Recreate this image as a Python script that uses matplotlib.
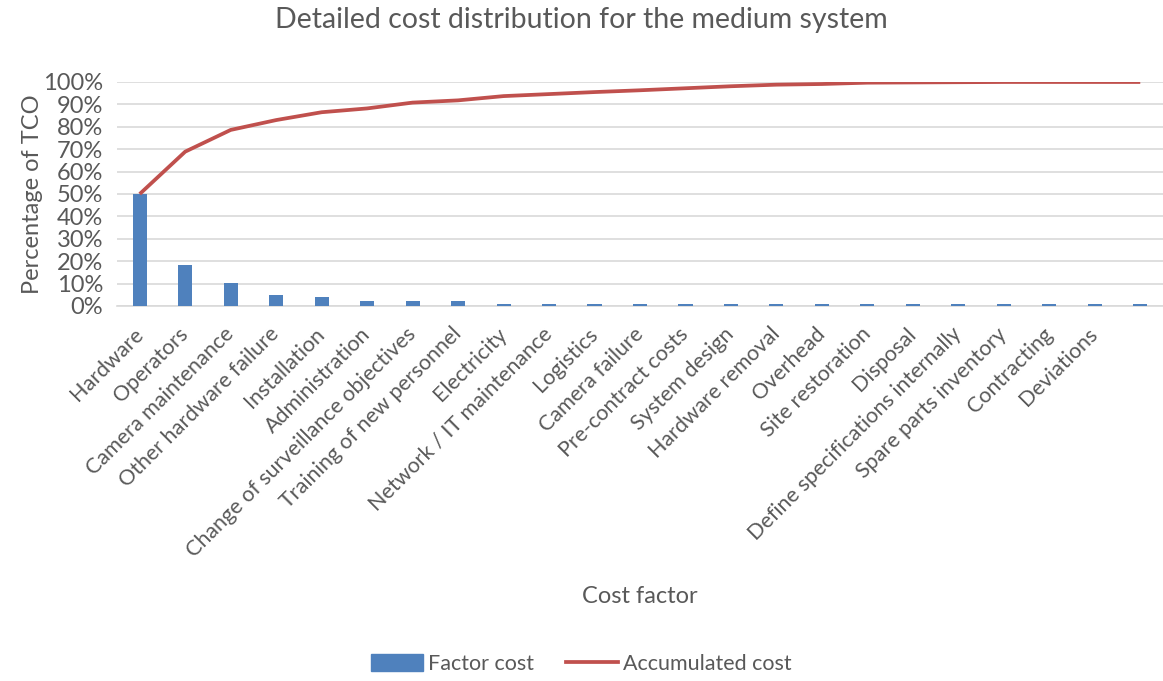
import matplotlib.pyplot as plt
import numpy as np
from matplotlib.ticker import PercentFormatter
from matplotlib.patches import Patch
from matplotlib.lines import Line2D

plt.rcParams['font.family'] = ['Lato', 'DejaVu Sans']

factors = ['Hardware', 'Operators', 'Camera maintenance', 'Other hardware failure',
           'Installation', 'Administration', 'Change of surveillance objectives',
           'Training of new personnel', 'Electricity', 'Network / IT maintenance',
           'Logistics', 'Camera failure', 'Pre-contract costs', 'System design',
           'Hardware removal', 'Overhead', 'Site restoration', 'Disposal',
           'Define specifications internally', 'Spare parts inventory',
           'Contracting', 'Deviations', '']

# share of TCO per factor (%)
factor_cost = [50.2, 18.3, 10.2, 4.7, 3.8, 2.0, 2.2, 2.2, 1.1, 1.1, 0.9, 0.9,
               0.9, 0.9, 0.9, 0.9, 0.9, 0.9, 0.9, 0.9, 0.9, 0.9, 0.9]

# running total (%)
accumulated_cost = [50.0, 68.9, 78.6, 83.0, 86.5, 88.2, 90.8, 91.8, 93.7, 94.6,
                    95.5, 96.3, 97.2, 98.1, 98.8, 99.1, 99.7, 99.8, 99.9, 100.0,
                    100.0, 100.0, 100.0]

TEXT = '#595959'
BLUE = '#4f81bd'
RED = '#c0504d'

fig = plt.figure(figsize=(11.63, 6.81), dpi=100)
ax = fig.add_axes([0.1006, 0.5507, 0.8994, 0.3289])

x = np.arange(len(factors))
ax.bar(x, factor_cost, width=0.31, color=BLUE, zorder=3)
ax.plot(x, accumulated_cost, color=RED, lw=2.7, zorder=4, solid_capstyle='butt')

ax.set_xlim(-0.5, len(factors) - 0.5)
ax.set_ylim(0, 100)
ax.set_yticks(np.arange(0, 101, 10))
ax.yaxis.set_major_formatter(PercentFormatter(decimals=0))
ax.grid(axis='y', color='#d9d9d9', lw=1.2, zorder=0)
for side in ['top', 'right', 'left']:
    ax.spines[side].set_visible(False)
ax.spines['bottom'].set_color('#d9d9d9')
ax.spines['bottom'].set_linewidth(1.2)
ax.tick_params(length=0, colors=TEXT)
ax.tick_params(axis='y', pad=10, labelsize=17)

ax.set_xticks(x)
ax.set_xticklabels(factors, rotation=45, ha='right', va='center',
                   rotation_mode='anchor')
ax.tick_params(axis='x', pad=18, labelsize=15.5)

ax.set_ylabel('Percentage of TCO', color=TEXT, fontsize=17, labelpad=0)
ax.set_xlabel('Cost factor', color=TEXT, fontsize=17, labelpad=18)
fig.suptitle('Detailed cost distribution for the medium system', color=TEXT,
             fontsize=20.5, y=0.99)

handles = [Patch(color=BLUE), Line2D([], [], color=RED, lw=2.7)]
fig.legend(handles, ['Factor cost', 'Accumulated cost'], loc='center',
           bbox_to_anchor=(0.5, 0.025), ncol=2, frameon=False, fontsize=15.5,
           labelcolor=TEXT, handlelength=2.4, handleheight=0.8,
           columnspacing=1.5, handletextpad=0.25)

fig.savefig('out.png', dpi=100)
